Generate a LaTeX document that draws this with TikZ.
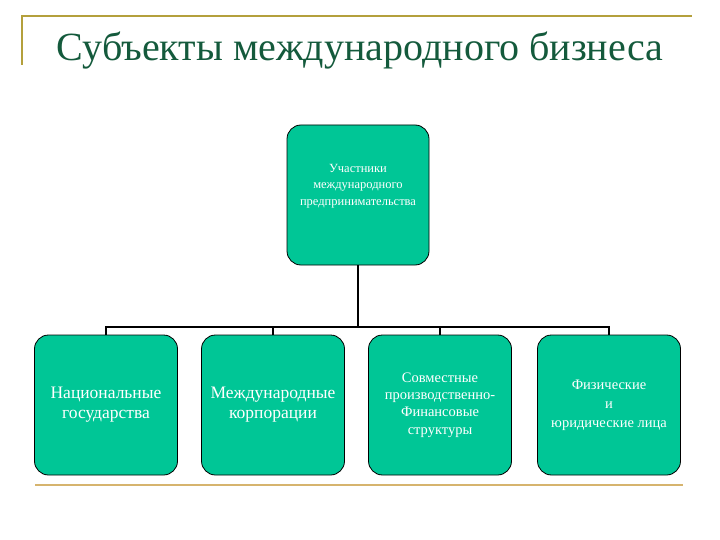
\documentclass[tikz,border=0pt]{standalone}
\usepackage{fontspec}
\setmainfont{Liberation Serif}
\definecolor{boxGreen}{RGB}{0,198,150}
\definecolor{titleGreen}{RGB}{20,90,60}
\definecolor{ruleGold}{RGB}{180,160,60}
\definecolor{ruleTan}{RGB}{214,180,110}
\begin{document}
\begin{tikzpicture}[
    x=1pt, y=-1pt,
    % Style for the rounded green boxes
    orgBox/.style={
        rectangle,
        rounded corners=14pt,
        draw=black,
        fill=boxGreen,
        line width=0.8pt,
        minimum width=143pt,
        minimum height=140pt,
        align=center,
        text=white,
        inner sep=2pt
    },
    % Style for the slide title
    titleText/.style={
        font=\fontsize{40}{44}\selectfont,
        text=titleGreen
    },
    % Style for the tree connectors
    edgeStyle/.style={
        draw=black,
        line width=1.2pt
    }
]

    % --- FRAME ---
    \useasboundingbox (0,0) rectangle (720,540);
    \draw[ruleGold, line width=1.5pt] (22,65) -- (22,16) -- (692,16);
    \draw[ruleTan, line width=2pt] (35,485) -- (683,485);

    % --- TITLE ---
    \node[titleText] (title) at (360,51) {Субъекты международного бизнеса};

    % --- TOP NODE ---
    \node[orgBox, minimum width=142pt] (top) at (358,195) {};
    \node[text=white, align=center, font=\fontsize{12.5}{16.5}\selectfont] (topText) at (358,186)
        {Участники\\международного\\предпринимательства};

    % --- BOTTOM NODES ---
    \node[orgBox, font=\fontsize{17.5}{20}\selectfont] (states) at (106,405)
        {Национальные\\государства};
    \node[orgBox, font=\fontsize{17.5}{20}\selectfont] (corps) at (273,405)
        {Международные\\корпорации};
    \node[orgBox, font=\fontsize{14.5}{17.3}\selectfont] (joint) at (440,405)
        {Совместные\\производственно-\\Финансовые\\структуры};
    \node[orgBox, font=\fontsize{14.5}{19}\selectfont] (persons) at (609,405)
        {Физические\\и\\юридические лица};

    % --- EDGES ---
    \coordinate (bus) at (358,327);
    \draw[edgeStyle] (top.south) -- (bus);
    \foreach \b in {states, corps, joint, persons}
        \draw[edgeStyle] (bus) -| (\b.north);

\end{tikzpicture}
\end{document}
